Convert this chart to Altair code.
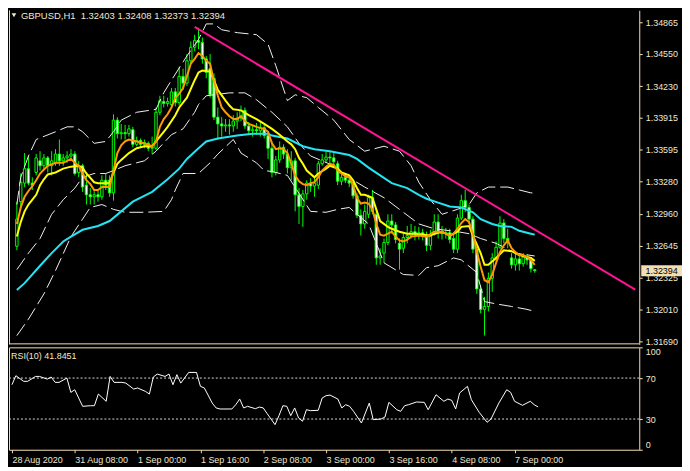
import altair as alt
import pandas as pd

# ---------------- data ----------------
bar_open = [1.32637,1.33081,1.33265,1.33409,1.33265,1.33371,1.33487,1.33438,1.33516,1.33438,
            1.33467,1.33554,1.33487,1.33516,1.33535,1.33554,1.33371,1.33438,1.33245,1.33149,
            1.33129,1.33149,1.33129,1.33294,1.33294,1.33168,1.33892,1.33757,1.33767,1.33757,
            1.33796,1.33651,1.33690,1.33651,1.33661,1.33612,1.33612,1.33970,1.34076,1.34057,
            1.34047,1.34173,1.34066,1.34327,1.34260,1.34482,1.34617,1.34685,1.34665,1.34501,
            1.34404,1.34308,1.33921,1.33854,1.33834,1.33844,1.33834,1.33883,1.33912,1.33989,
            1.33834,1.33786,1.33796,1.33786,1.33815,1.33738,1.33612,1.33371,1.33496,1.33622,
            1.33554,1.33419,1.33487,1.33149,1.33033,1.33158,1.33265,1.33236,1.33245,1.33458,
            1.33496,1.33525,1.33516,1.33458,1.33284,1.33323,1.33294,1.33265,1.33139,1.32946,
            1.32859,1.32955,1.33120,1.32955,1.32521,1.32569,1.32675,1.32888,1.32849,1.32666,
            1.32617,1.32724,1.32743,1.32782,1.32753,1.32772,1.32743,1.32646,1.32753,1.32878,
            1.32782,1.32762,1.32772,1.32714,1.32608,1.32917,1.33091,1.33023,1.32907,1.32608,
            1.32212,1.32009,1.32038,1.32318,1.32521,1.32627,1.32868,1.32714,1.32521,1.32453,
            1.32511,1.32463,1.32530,1.32501,1.32403]
bar_high = [1.33081,1.33361,1.33564,1.33535,1.33323,1.33554,1.33583,1.33554,1.33535,1.33583,
            1.33603,1.33699,1.33554,1.33583,1.33603,1.33583,1.33487,1.33458,1.33361,1.33216,
            1.33197,1.33187,1.33342,1.33361,1.33342,1.33950,1.33921,1.33854,1.33844,1.33844,
            1.33825,1.33728,1.33709,1.33699,1.33680,1.33728,1.34018,1.34134,1.34134,1.34115,
            1.34211,1.34211,1.34424,1.34404,1.34549,1.34675,1.34742,1.34810,1.34714,1.34530,
            1.34549,1.34356,1.34018,1.33921,1.33902,1.33902,1.33941,1.33970,1.34037,1.34018,
            1.33873,1.33844,1.33863,1.33873,1.33844,1.33776,1.33680,1.33535,1.33680,1.33651,
            1.33603,1.33583,1.33516,1.33216,1.33197,1.33294,1.33313,1.33323,1.33487,1.33554,
            1.33583,1.33574,1.33564,1.33487,1.33361,1.33361,1.33342,1.33284,1.33168,1.33004,
            1.33052,1.33149,1.33197,1.33004,1.32617,1.32714,1.32955,1.32955,1.32878,1.32714,
            1.32762,1.32839,1.32859,1.32839,1.32830,1.32811,1.32782,1.32801,1.32955,1.32955,
            1.32839,1.32820,1.32811,1.32762,1.32955,1.33149,1.33197,1.33052,1.32936,1.32627,
            1.32250,1.32134,1.32376,1.32569,1.32685,1.32936,1.32907,1.32811,1.32569,1.32569,
            1.32540,1.32569,1.32559,1.32530,1.32408]
bar_low = [1.32598,1.33004,1.33226,1.33245,1.33197,1.33342,1.33390,1.33409,1.33371,1.33342,
           1.33438,1.33438,1.33438,1.33467,1.33487,1.33342,1.33323,1.33178,1.33052,1.33052,
           1.33052,1.33081,1.33100,1.33197,1.33129,1.33091,1.33709,1.33699,1.33699,1.33728,
           1.33622,1.33632,1.33622,1.33612,1.33583,1.33554,1.33593,1.33941,1.34018,1.34028,
           1.34018,1.34028,1.34037,1.34192,1.34231,1.34453,1.34578,1.34598,1.34453,1.34308,
           1.34115,1.33892,1.33699,1.33728,1.33776,1.33747,1.33776,1.33805,1.33883,1.33805,
           1.33747,1.33728,1.33747,1.33728,1.33709,1.33506,1.33323,1.33342,1.33467,1.33506,
           1.33361,1.33294,1.32984,1.32859,1.32830,1.33100,1.33178,1.33129,1.33207,1.33438,
           1.33467,1.33458,1.33438,1.33245,1.33245,1.33265,1.33226,1.33110,1.32917,1.32743,
           1.32811,1.32917,1.32955,1.32453,1.32453,1.32472,1.32646,1.32762,1.32666,1.32405,
           1.32569,1.32666,1.32714,1.32695,1.32704,1.32695,1.32588,1.32598,1.32743,1.32714,
           1.32704,1.32714,1.32666,1.32569,1.32569,1.32897,1.32975,1.32859,1.32569,1.32163,
           1.31970,1.31748,1.31989,1.32183,1.32492,1.32608,1.32666,1.32617,1.32414,1.32395,
           1.32395,1.32434,1.32453,1.32376,1.32373]
bar_close = [1.32907,1.33274,1.33409,1.33265,1.33245,1.33516,1.33438,1.33516,1.33438,1.33487,
             1.33554,1.33487,1.33516,1.33535,1.33554,1.33361,1.33438,1.33226,1.33149,1.33129,
             1.33149,1.33129,1.33294,1.33245,1.33168,1.33892,1.33757,1.33767,1.33757,1.33805,
             1.33651,1.33690,1.33651,1.33670,1.33612,1.33622,1.33970,1.34086,1.34057,1.34076,
             1.34173,1.34066,1.34327,1.34260,1.34482,1.34617,1.34685,1.34665,1.34501,1.34366,
             1.34144,1.33921,1.33854,1.33834,1.33844,1.33834,1.33883,1.33912,1.33989,1.33834,
             1.33786,1.33796,1.33786,1.33815,1.33738,1.33612,1.33371,1.33496,1.33622,1.33554,
             1.33419,1.33487,1.33149,1.33033,1.33158,1.33265,1.33236,1.33265,1.33458,1.33496,
             1.33525,1.33516,1.33477,1.33284,1.33323,1.33294,1.33265,1.33139,1.32946,1.32859,
             1.32984,1.33120,1.32984,1.32521,1.32540,1.32675,1.32888,1.32849,1.32704,1.32608,
             1.32724,1.32743,1.32782,1.32753,1.32772,1.32743,1.32646,1.32753,1.32878,1.32782,
             1.32762,1.32772,1.32704,1.32608,1.32917,1.33091,1.33023,1.32907,1.32608,1.32212,
             1.32009,1.32038,1.32318,1.32521,1.32627,1.32868,1.32714,1.32685,1.32453,1.32511,
             1.32463,1.32530,1.32501,1.32414,1.32394]

# fast moving average (orange)
fast_bar = [0,1,2,3,4,5,6,7,8,10,12,14,15,16,17,18,19,20,21,22,24,25,26,27,28,29,31,33,35,36,
            37,38,39,40,41,42,43,44,45,46,47,48,49,50,51,52,53,54,55,56,57,58,59,60,62,64,65,66,
            67,68,69,70,71,72,73,74,75,76,77,78,79,80,81,82,83,84,85,86,87,88,89,90,91,92,93,94,
            95,96,97,98,99,100,101,102,104,106,108,110,112,113,114,115,116,117,118,119,120,121,
            122,123,124,125,126,127,128,129,130,131,132,133,134]
fast_val = [1.32859,1.33023,1.33129,1.33187,1.33236,1.33294,1.33361,1.33400,1.33438,1.33467,
            1.33467,1.33506,1.33467,1.33438,1.33361,1.33294,1.33255,1.33197,1.33197,1.33226,
            1.33226,1.33390,1.33564,1.33641,1.33680,1.33699,1.33680,1.33661,1.33632,1.33680,
            1.33825,1.33902,1.33950,1.34018,1.34115,1.34153,1.34211,1.34327,1.34453,1.34501,
            1.34559,1.34530,1.34482,1.34453,1.34279,1.34134,1.34018,1.33970,1.33931,1.33902,
            1.33902,1.33931,1.33883,1.33854,1.33825,1.33805,1.33776,1.33661,1.33603,1.33612,
            1.33603,1.33564,1.33458,1.33342,1.33284,1.33255,1.33245,1.33265,1.33274,1.33323,
            1.33390,1.33429,1.33458,1.33448,1.33390,1.33361,1.33332,1.33323,1.33245,1.33120,
            1.33062,1.33071,1.33062,1.33004,1.32859,1.32753,1.32743,1.32762,1.32782,1.32733,
            1.32695,1.32685,1.32704,1.32733,1.32743,1.32733,1.32782,1.32782,1.32743,1.32762,
            1.32811,1.32868,1.32907,1.32878,1.32762,1.32588,1.32434,1.32299,1.32279,1.32356,
            1.32472,1.32579,1.32646,1.32695,1.32617,1.32579,1.32550,1.32550,1.32530,1.32501,
            1.32453]

# slower moving average (yellow)
slow_bar = [0,1,2,3,5,6,7,8,10,12,14,16,17,18,20,21,24,25,26,27,29,31,33,35,36,38,39,41,42,44,
            46,47,48,50,51,52,54,55,56,58,60,62,64,66,68,70,71,72,73,74,75,77,78,80,81,83,84,86,
            87,88,89,90,92,93,94,96,97,99,101,103,107,108,110,112,114,115,117,118,120,121,122,
            124,126,128,130,133,134]
slow_val = [1.32733,1.32878,1.32984,1.33052,1.33149,1.33245,1.33303,1.33351,1.33371,1.33409,
            1.33429,1.33438,1.33419,1.33361,1.33274,1.33265,1.33265,1.33371,1.33458,1.33496,
            1.33564,1.33612,1.33632,1.33632,1.33680,1.33776,1.33825,1.33941,1.34018,1.34115,
            1.34289,1.34366,1.34385,1.34375,1.34289,1.34192,1.34086,1.34037,1.33999,1.33989,
            1.33941,1.33902,1.33854,1.33805,1.33747,1.33680,1.33651,1.33603,1.33516,1.33458,
            1.33390,1.33323,1.33361,1.33409,1.33438,1.33409,1.33371,1.33342,1.33294,1.33216,
            1.33149,1.33149,1.33120,1.33004,1.32888,1.32830,1.32811,1.32782,1.32762,1.32762,
            1.32743,1.32762,1.32782,1.32743,1.32782,1.32830,1.32839,1.32743,1.32569,1.32453,
            1.32453,1.32521,1.32598,1.32588,1.32550,1.32521,1.32492]

# long moving average (cyan)
long_bar = [0,2,6,9,12,14,17,21,24,27,30,35,39,42,44,47,49,52,57,61,65,66,70,74,77,81,86,88,91,
            94,97,101,104,106,109,112,115,118,120,123,125,128,130,133,134]
long_val = [1.32202,1.32270,1.32443,1.32569,1.32685,1.32733,1.32801,1.32839,1.32888,1.32984,
            1.33081,1.33178,1.33303,1.33409,1.33506,1.33612,1.33680,1.33709,1.33738,1.33757,
            1.33757,1.33738,1.33709,1.33632,1.33603,1.33583,1.33545,1.33506,1.33419,1.33342,
            1.33265,1.33216,1.33149,1.33110,1.33071,1.33033,1.33023,1.32975,1.32907,1.32859,
            1.32839,1.32830,1.32791,1.32762,1.32753]

# Bollinger bands (white dashed): upper, middle, lower
bb_up_bar = [0,1,3,5,10,13,15,17,20,23,25,27,31,36,38,40,44,47,49,51,53,57,62,65,67,70,72,75,
             78,82,86,90,95,99,102,104,107,110,114,117,119,122,127,130,133,134]
bb_up = [1.33052,1.33323,1.33535,1.33699,1.33776,1.33825,1.33825,1.33776,1.33661,1.33680,
         1.33776,1.33892,1.33970,1.33999,1.34163,1.34289,1.34530,1.34694,1.34849,1.34849,
         1.34791,1.34762,1.34742,1.34646,1.34433,1.34086,1.34144,1.34115,1.34018,1.33892,
         1.33699,1.33583,1.33632,1.33583,1.33438,1.33274,1.33100,1.32955,1.33004,1.33052,
         1.33168,1.33226,1.33226,1.33197,1.33168,1.33168]
bb_mid_bar = [0,3,6,9,12,15,17,20,23,25,28,33,36,40,43,46,47,49,55,59,62,65,66,70,73,76,79,82,
              85,90,95,100,104,108,114,117,120,124,129,134]
bb_mid = [1.32405,1.32569,1.32714,1.32955,1.33100,1.33216,1.33323,1.33361,1.33361,1.33390,
          1.33438,1.33487,1.33583,1.33747,1.33805,1.33970,1.34047,1.34134,1.34163,1.34163,
          1.34095,1.33999,1.33970,1.33825,1.33661,1.33535,1.33487,1.33438,1.33342,1.33226,
          1.33120,1.32975,1.32859,1.32811,1.32782,1.32762,1.32714,1.32666,1.32569,1.32540]
bb_low_bar = [0,3,7,10,14,17,19,22,25,28,33,38,40,41,43,47,50,52,56,58,62,64,66,70,76,80,83,86,
              88,91,95,100,104,106,109,113,115,119,121,125,128,132,134]
bb_low = [1.31748,1.31912,1.32163,1.32395,1.32733,1.32907,1.33023,1.33052,1.33004,1.32975,
          1.32975,1.32984,1.33100,1.33197,1.33361,1.33361,1.33467,1.33554,1.33699,1.33564,
          1.33467,1.33390,1.33381,1.33342,1.32984,1.32975,1.33004,1.33023,1.32955,1.32859,
          1.32472,1.32356,1.32347,1.32424,1.32443,1.32521,1.32501,1.32376,1.32086,1.32057,
          1.32038,1.32009,1.31989]

# pink trend line anchors
trend_bar = [46, 160]
trend_val = [1.34820, 1.32206]

# RSI(10)
rsi_bar = [0,1,3,4,6,7,9,10,11,12,14,15,16,17,18,20,21,22,24,25,26,28,29,31,32,34,35,36,37,39,
           40,41,42,43,45,47,48,49,51,52,53,54,56,57,58,59,60,62,63,64,65,67,68,69,70,71,72,73,
           74,75,76,78,79,80,81,83,84,85,86,87,89,91,92,94,95,96,98,99,100,101,103,105,106,108,
           110,111,112,113,114,116,117,119,121,122,124,126,127,128,130,132,133,134]
rsi_val = [63.5,72.3,66.8,66.8,71.6,71.6,69.0,71.0,65.8,65.8,70.0,56.0,58.6,50.5,42.4,43.0,43.0,
           54.4,47.3,71.6,65.8,65.8,65.1,59.3,60.3,57.0,54.4,71.0,73.9,71.6,73.9,63.5,73.3,65.1,
           75.5,75.5,61.9,60.3,45.6,40.8,39.8,39.8,39.8,44.0,49.5,40.8,42.4,40.1,41.7,40.8,35.2,
           24.5,33.3,43.0,42.4,33.3,40.8,31.0,27.8,39.1,38.2,38.5,50.5,52.8,53.4,49.5,40.8,44.0,
           42.4,37.5,26.1,45.6,29.4,30.0,32.0,46.3,39.1,37.5,43.0,44.0,46.6,46.3,39.1,53.7,47.3,
           49.5,48.2,39.8,55.4,61.9,48.9,36.5,26.8,30.0,45.6,58.6,56.0,47.3,43.4,47.3,44.0,41.8]
rsi_levels = [70, 30]

price_ticks = [1.34865, 1.34550, 1.34230, 1.33915, 1.33595, 1.33280,
               1.32960, 1.32645, 1.32325, 1.32010, 1.31690]
rsi_ticks = [0, 30, 70, 100]
date_ticks = [0, 16, 32, 48, 64, 80, 96, 112, 128]
date_labels = ["28 Aug 2020", "31 Aug 08:00", "1 Sep 00:00", "1 Sep 16:00", "2 Sep 08:00",
               "3 Sep 00:00", "3 Sep 16:00", "4 Sep 08:00", "7 Sep 00:00"]
header_text = "GBPUSD,H1\u00a0 1.32403 1.32408 1.32373 1.32394"
last_price = 1.32394
rsi_text = "RSI(10) 41.8451"

# ---------------- styling ----------------
W, H1, H2 = 634, 336, 103
LIME = "#00ff00"
BEIGE = "#f5deb3"
TXT = "#f3e7cf"
FONT = "Liberation Sans"
FS = 9

xs = alt.Scale(domain=[-0.75, 159.75], nice=False, zero=False)
ys = alt.Scale(domain=[1.31661, 1.34984], nice=False, zero=False)
rs = alt.Scale(domain=[0, 100], nice=False, zero=False)

price_axis = alt.Axis(orient="right", values=price_ticks, format=".5f", grid=False,
                      domainColor=BEIGE, tickColor=BEIGE, tickSize=3, labelColor=TXT,
                      labelFont=FONT, labelFontSize=FS, labelPadding=3, title=None,
                      labelOverlap=False, labelFlush=False)


def X(f):
    return alt.X(f, type="quantitative", scale=xs, axis=None)


def Y(f):
    return alt.Y(f, type="quantitative", scale=ys, axis=price_axis)


bars = pd.DataFrame({"i": list(range(len(bar_close))), "open": bar_open,
                     "high": bar_high, "low": bar_low, "close": bar_close})

wicks = alt.Chart(bars).mark_rule(color=LIME, strokeWidth=1).encode(
    x=X("i"), y=Y("low"), y2="high")
bodies = alt.Chart(bars).mark_bar(size=2.4, stroke=LIME, strokeWidth=1).encode(
    x=X("i"), y=Y("open"), y2="close",
    fill=alt.condition("datum.close >= datum.open", alt.value("black"), alt.value("white")))


def line(bx, vals, color, width=2, dash=None):
    df = pd.DataFrame({"i": bx, "v": vals})
    kw = dict(color=color, strokeWidth=width, clip=True)
    if dash:
        kw["strokeDash"] = dash
    return alt.Chart(df).mark_line(**kw).encode(x=X("i"), y=Y("v"))


bands = [line(b, v, "#f0f0f0", 1, [14, 5]) for b, v in
         ((bb_up_bar, bb_up), (bb_mid_bar, bb_mid), (bb_low_bar, bb_low))]
long_line = line(long_bar, long_val, "#22e4f2")
slow_line = line(slow_bar, slow_val, "#ffff00")
fast_line = line(fast_bar, fast_val, "#ff9900")
trend_line = line(trend_bar, trend_val, "#ff1493")

one = pd.DataFrame({"a": [0]})
header = alt.Chart(pd.DataFrame({"t": [header_text]})).mark_text(
    align="left", baseline="top", font=FONT, fontSize=FS + 0.5, color=TXT).encode(
    x=alt.value(12), y=alt.value(1), text="t:N")
tri = alt.Chart(one).mark_point(shape="triangle-down", filled=True, size=22,
                                color=TXT, opacity=1).encode(x=alt.value(5), y=alt.value(5))
left_border = alt.Chart(one).mark_rule(color=BEIGE, strokeWidth=1).encode(
    x=alt.value(0.5), y=alt.value(0), y2=alt.value(H1))
bottom_border = alt.Chart(one).mark_rule(color=BEIGE, strokeWidth=1).encode(
    y=alt.value(H1 - 0.5), x=alt.value(0), x2=alt.value(W))

lp = pd.DataFrame({"p": [last_price]})
price_box = alt.Chart(lp).mark_tick(orient="horizontal", size=41, thickness=11,
                                    color=BEIGE, opacity=1).encode(
    x=alt.value(W + 22.5), y=Y("p"))
price_txt = alt.Chart(lp).mark_text(font=FONT, fontSize=FS, color="black",
                                    align="center", baseline="middle").encode(
    x=alt.value(W + 22.5), y=Y("p"), text=alt.Text("p:Q", format=".5f"))

main = alt.layer(wicks, bodies, *bands, long_line, slow_line, fast_line, trend_line,
                 left_border, bottom_border, header, tri, price_box, price_txt).properties(
    width=W, height=H1, view=alt.ViewBackground(stroke=None))

# ---------------- RSI panel ----------------
label_expr = ("[" + ",".join("'%s'" % s for s in date_labels) + "][indexof(["
              + ",".join(str(t) for t in date_ticks) + "], datum.value)]")
date_axis = alt.Axis(values=date_ticks, labelExpr=label_expr, labelAlign="left",
                     labelColor=TXT, tickColor=BEIGE, tickSize=3, domain=False, grid=False,
                     labelFont=FONT, labelFontSize=FS, labelPadding=3, title=None,
                     labelOverlap=False, labelFlush=False)
rsi_axis = alt.Axis(orient="right", values=rsi_ticks, grid=False, domain=False,
                    tickColor=BEIGE, tickSize=3, labelColor=TXT, labelFont=FONT,
                    labelFontSize=FS, labelPadding=3, title=None, labelFlush=True,
                    labelOverlap=False)

rsi_df = pd.DataFrame({"i": rsi_bar, "v": rsi_val})
lvl_df = pd.DataFrame({"v": rsi_levels})
levels = alt.Chart(lvl_df).mark_rule(color="#d8d8d8", strokeDash=[2, 2], strokeWidth=1).encode(
    y=alt.Y("v:Q", scale=rs, axis=rsi_axis))
rsi_line = alt.Chart(rsi_df).mark_line(color="white", strokeWidth=1).encode(
    x=alt.X("i:Q", scale=xs, axis=date_axis), y=alt.Y("v:Q", scale=rs, axis=rsi_axis))
rsi_lab = alt.Chart(pd.DataFrame({"t": [rsi_text]})).mark_text(
    align="left", baseline="middle", font=FONT, fontSize=FS, color=TXT).encode(
    x=alt.value(2), y=alt.value(9), text="t:N")

rsi = alt.layer(levels, rsi_line, rsi_lab).properties(
    width=W, height=H2, view=alt.ViewBackground(stroke=BEIGE, strokeWidth=1))

chart = alt.vconcat(main, rsi, spacing=3, bounds="flush").properties(
    padding=0, background="black")

chart.save("out.html", embed_options={"renderer": "svg", "actions": False})
